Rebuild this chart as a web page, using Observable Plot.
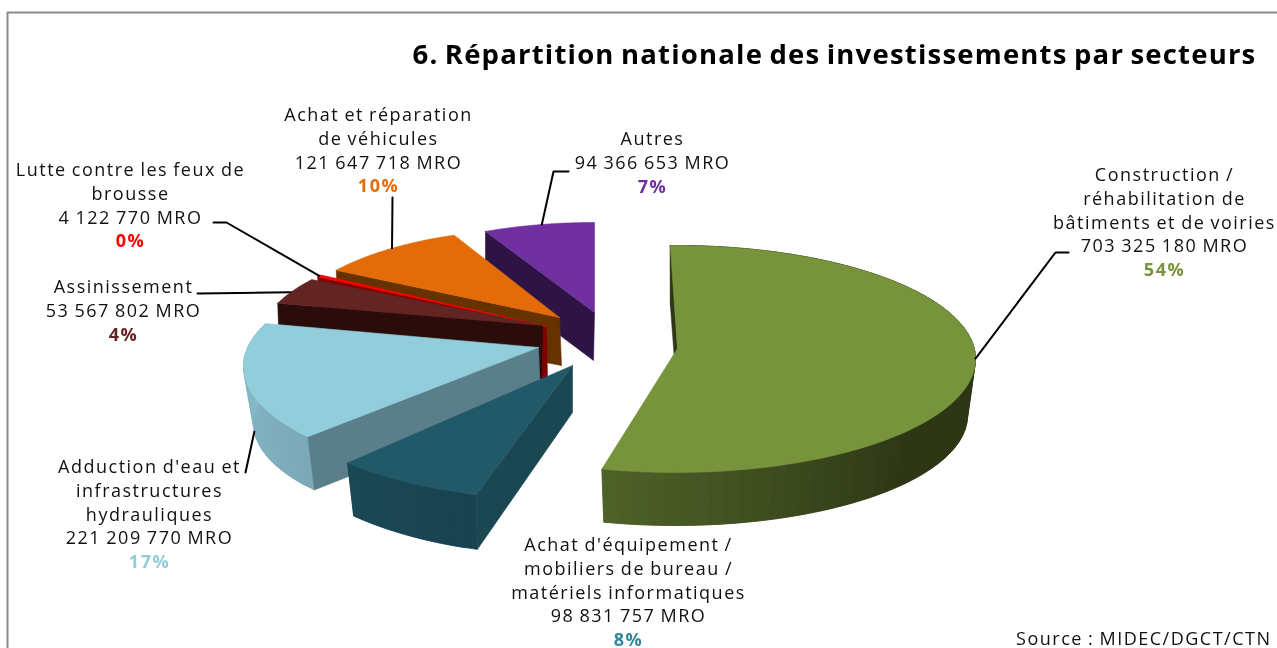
<!DOCTYPE html>
<html><head><meta charset="utf-8">
<script src="https://cdn.jsdelivr.net/npm/d3@7"></script>
<script src="https://cdn.jsdelivr.net/npm/@observablehq/plot@0.6"></script>
<style>
html,body{margin:0;padding:0;background:#fff;overflow:hidden}
svg{display:block;filter:blur(0.35px)}
.lab text{letter-spacing:1.5px;word-spacing:-1px}
.ttl text{letter-spacing:1.2px;word-spacing:-2px}
</style></head><body>
<div id="chart"></div>
<script>
// ---- Data ----
const sectors = ["Construction / réhabilitation de bâtiments et de voiries","Achat d'équipement / mobiliers de bureau / matériels informatiques","Adduction d'eau et infrastructures hydrauliques","Assinissement","Lutte contre les feux de brousse","Achat et réparation de véhicules","Autres"];
const amounts = [703325180, 98831757, 221209770, 53567802, 4122770, 121647718, 94366653];
const amountLabels = ["703 325 180 MRO","98 831 757 MRO","221 209 770 MRO","53 567 802 MRO","4 122 770 MRO","121 647 718 MRO","94 366 653 MRO"];
const percentLabels = ["54%","8%","17%","4%","0%","10%","7%"];
const nameLines = [
  ["Construction /","réhabilitation de","bâtiments et de voiries"],
  ["Achat d'équipement /","mobiliers de bureau /","matériels informatiques"],
  ["Adduction d'eau et","infrastructures","hydrauliques"],
  ["Assinissement"],
  ["Lutte contre les feux de","brousse"],
  ["Achat et réparation","de véhicules"],
  ["Autres"]
];
const titleText = "6. Répartition nationale des investissements par secteurs";
const sourceText = "Source : MIDEC/DGCT/CTN";

// ---- Style ----
const topColors = ["#77933c","#215968","#92cddc","#632523","#ff0000","#e36c09","#7030a0"];
const percentColors = ["#77933c","#31859c","#92cddc","#632523","#ff0000","#e36c09","#7030a0"];
const radialWallColors = ["#2d3716","#1a4752","#5b7f8a","#2a0c0b","#800000","#663300","#2d1445"];
const outerWallColors = [["#2d3716","#2d3716","#2d3716","#4f6228"],["#1a4250","#1b4855"],["#7ba8b8","#8abccb"],null,null,null,null];
const fontFamily = "'Open Sans',sans-serif";

// ---- 3D layout: exploded, foreshortened slices ----
const geometry = [
  {top:{cx:675,cy:358.5,rx:300,ry:113.5},bot:{cx:675,cy:415,rx:292,ry:110},apex:[677,348],apexB:[677,400],rot:-1},
  {top:{cx:557,cy:361,rx:310,ry:138},bot:{cx:555,cy:408,rx:298,ry:146},apex:[572,365],apexB:[572,412],rot:0},
  {top:{cx:533,cy:366,rx:290,ry:112},bot:{cx:528,cy:423,rx:275,ry:106},apex:[538,347],apexB:[540,400],rot:8.5},
  {top:{cx:545,cy:338,rx:285,ry:103},bot:{cx:545,cy:391,rx:283,ry:103},apex:[542,325],apexB:[541,378],rot:6},
  {top:{cx:545,cy:338,rx:285,ry:103},bot:{cx:547,cy:391,rx:283,ry:103},apex:[546,326],apexB:[547,380],rot:8},
  {top:{cx:547,cy:326,rx:258,ry:98},bot:{cx:549,cy:379,rx:258,ry:98},apex:[559,317],apexB:[561,365],rot:5},
  {top:{cx:594,cy:309,rx:247,ry:87},bot:{cx:594,cy:357,rx:247,ry:87},apex:[594,312],apexB:[593,360],rot:0}
];
const drawOrder = [6,5,4,3,2,1,0];

// label centre x and y of first line, with line spacing
const labelPos = [[1164,175],[628,545],[149,467],[123,287],[130,170],[378,115],[652,139]];
const lineStep = 23.7;
// leader lines: slice, position along the rim (0-1), on lower rim?, elbow points from label side
const leaders = [
  {i:0,t:0.465,low:false,via:[[1068,252],[1055,252]]},
  {i:2,t:0.56,low:true,via:[[245,472]]},
  {i:3,t:0.45,low:false,via:[[197,293]]},
  {i:4,t:0.5,low:false,via:[[213,222],[226,222]]},
  {i:5,t:0.53,low:false,via:[[392,197]]},
  {i:6,t:0.53,low:false,via:[[568,171],[553,171]]}
];

// ---- Pie angles from the amounts ----
const total = d3.sum(amounts);
const cum = d3.cumsum(amounts);
const startAngle = i => i === 0 ? 0 : cum[i-1] / total * 360;
const endAngle = i => cum[i] / total * 360;

const pt = (e, a) => {
  const r = a * Math.PI / 180;
  return [e.cx + e.rx * Math.sin(r), e.cy - e.ry * Math.cos(r)];
};
const arc = (e, a0, a1, n) => d3.range(n + 1).map(k => pt(e, a0 + (a1 - a0) * k / n));

const polys = [];
let pid = 0;
const addPoly = (points, color) => {
  pid++;
  for (const [x,y] of [...points, points[0]]) polys.push({x,y,id:pid,color});
};

for (const i of drawOrder) {
  const g = geometry[i];
  const a0 = startAngle(i) + g.rot, a1 = endAngle(i) + g.rot;
  // outer wall in shaded strips, each overlapping the next to avoid seams
  if (outerWallColors[i]) {
    const ramp = d3.piecewise(d3.interpolateRgb, outerWallColors[i]);
    const n = Math.max(12, Math.round((a1 - a0) / 3));
    const step = (a1 - a0) / n;
    for (let k = 0; k < n; k++) {
      const u0 = a0 + step * k, u1 = Math.min(a1, a0 + step * (k + 2));
      const t = arc(g.top, u0, u1, 3), b = arc(g.bot, u0, u1, 3).reverse();
      addPoly([...t, ...b], d3.rgb(ramp((k + .5) / n)).formatHex());
    }
  }
  // radial wall at the start of the slice
  addPoly([pt(g.top, a0), g.apex, g.apexB, pt(g.bot, a0)], radialWallColors[i]);
  // top face
  addPoly([g.apex, ...arc(g.top, a0, a1, Math.max(3, Math.ceil(a1 - a0)))], topColors[i]);
}

// ---- Texts ----
const labels = [];
sectors.forEach((_, i) => {
  const [x, y0] = labelPos[i];
  const lines = [...nameLines[i], amountLabels[i]];
  lines.forEach((text, k) => labels.push({x, y: y0 + k * lineStep, text, fill: "#111"}));
});
const pctLabels = sectors.map((_, i) => ({
  x: labelPos[i][0],
  y: labelPos[i][1] + (nameLines[i].length + 1) * lineStep,
  text: percentLabels[i],
  fill: percentColors[i]
}));

// ---- Leaders ----
const leaderPts = [];
leaders.forEach((l, id) => {
  const g = geometry[l.i];
  const a0 = startAngle(l.i) + g.rot, a1 = endAngle(l.i) + g.rot;
  const end = pt(l.low ? g.bot : g.top, a0 + (a1 - a0) * l.t);
  for (const [x,y] of [...l.via, end]) leaderPts.push({x,y,id});
});

const frame = [{x:7,y:648},{x:7,y:12},{x:1277,y:12}];

const chart = Plot.plot({
  width: 1277, height: 648,
  margin: 0,
  x: {domain: [0,1277], range: [0,1277], axis: null},
  y: {domain: [0,648], range: [0,648], axis: null},
  marks: [
    Plot.line(frame, {x:"x", y:"y", stroke:"#8c8c8c", strokeWidth:2}),
    Plot.line(polys, {x:"x", y:"y", z:"id", fill:"color", stroke:"color", strokeWidth:0.6, strokeLinejoin:"round"}),
    Plot.line(leaderPts, {x:"x", y:"y", z:"id", stroke:"#000", strokeWidth:2}),
    Plot.text(labels, {x:"x", y:"y", text:"text", fill:"fill", fontSize:18, fontFamily, textAnchor:"middle", className:"lab"}),
    Plot.text(pctLabels, {x:"x", y:"y", text:"text", fill:"fill", fontSize:18, fontWeight:700, fontFamily, textAnchor:"middle", className:"lab"}),
    Plot.text([titleText], {x:()=>1256, y:()=>55, text:d=>d, fill:"#000", fontSize:27.5, fontWeight:700, fontFamily, textAnchor:"end", className:"ttl"}),
    Plot.text([sourceText], {x:()=>1271, y:()=>639, text:d=>d, fill:"#111", fontSize:18, fontFamily, textAnchor:"end", className:"lab"})
  ]
});
document.getElementById("chart").append(chart);
</script>
</body></html>
